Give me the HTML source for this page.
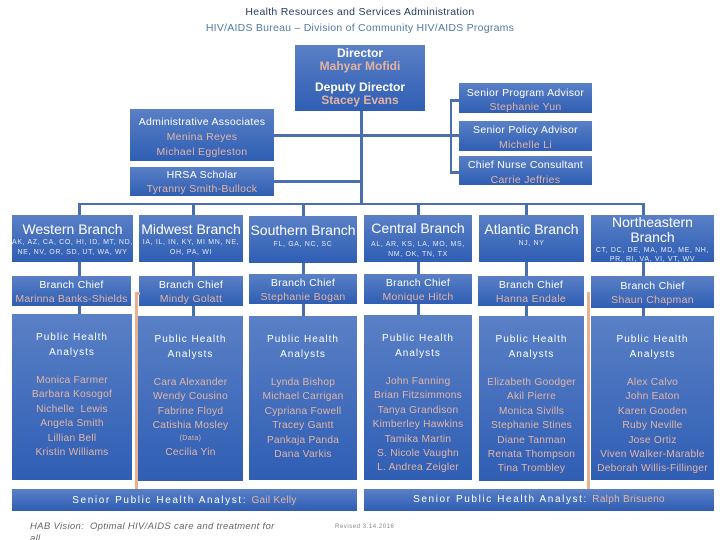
<!DOCTYPE html>
<html><head><meta charset="utf-8"><style>
html,body{margin:0;padding:0;background:#fff}
#p{position:relative;width:720px;height:540px;overflow:hidden;font-family:"Liberation Sans",sans-serif;color:#fff}
.b{position:absolute;background:linear-gradient(#5a80c6,#2f5eb4);text-align:center}
.l{position:absolute;background:#4a6fae}
.o{position:absolute;background:#e9b08c}
.t{position:absolute;left:0;right:0;text-align:center;white-space:nowrap}
.h{font-size:10.5px;letter-spacing:.3px;font-weight:400}
.n{color:#e2b4a4;font-size:10.5px;letter-spacing:.3px}
.c{font-size:14px}
.s{font-size:7px;letter-spacing:.65px;color:#dfe7f5}
.a{font-size:10px;letter-spacing:1px;line-height:15px}
.m{color:#e2b4a4;font-size:10.2px;letter-spacing:.25px;line-height:14.4px}
.d{font-weight:700;font-size:12px;line-height:13px}
</style></head><body><div id="p">

<div class="t" style="top:6px;font-size:10.5px;color:#1f3a5f;letter-spacing:.3px">Health Resources and Services Administration</div>
<div class="t" style="top:22px;font-size:10.5px;color:#4f7ba3;letter-spacing:.25px">HIV/AIDS Bureau – Division of Community HIV/AIDS Programs</div>

<!-- connectors -->
<div class="l" style="left:360px;top:111px;width:2.5px;height:94px"></div>
<div class="l" style="left:274px;top:134px;width:186px;height:3px"></div>
<div class="l" style="left:274px;top:180px;width:87px;height:3px"></div>
<div class="l" style="left:449.5px;top:99px;width:2.5px;height:74px"></div>
<div class="l" style="left:450px;top:99px;width:10px;height:2.5px"></div>
<div class="l" style="left:450px;top:171px;width:10px;height:2.5px"></div>
<div class="l" style="left:78px;top:202.5px;width:566px;height:2.5px"></div>
<div class="l" style="left:78px;top:203px;width:2.5px;height:112px"></div>
<div class="l" style="left:192px;top:203px;width:2.5px;height:114px"></div>
<div class="l" style="left:302px;top:203px;width:2.5px;height:114px"></div>
<div class="l" style="left:417px;top:203px;width:2.5px;height:114px"></div>
<div class="l" style="left:525px;top:203px;width:2.5px;height:114px"></div>
<div class="l" style="left:642px;top:203px;width:2.5px;height:114px"></div>

<!-- top boxes -->
<div class="b" style="left:295px;top:45px;width:130px;height:66px">
 <div class="t d" style="top:2px">Director</div>
 <div class="t d" style="top:15px;color:#e3b3a0">Mahyar Mofidi</div>
 <div class="t d" style="top:36px">Deputy Director</div>
 <div class="t d" style="top:49px;color:#e3b3a0">Stacey Evans</div>
</div>
<div class="b" style="left:130px;top:109px;width:144px;height:52px">
 <div class="t h" style="top:7px">Administrative Associates</div>
 <div class="t n" style="top:22px">Menina Reyes</div>
 <div class="t n" style="top:37px">Michael Eggleston</div>
</div>
<div class="b" style="left:130px;top:167px;width:144px;height:29px">
 <div class="t h" style="top:2px">HRSA Scholar</div>
 <div class="t n" style="top:16px">Tyranny Smith-Bullock</div>
</div>
<div class="b" style="left:459px;top:83px;width:133px;height:30px">
 <div class="t h" style="top:4px">Senior Program Advisor</div>
 <div class="t n" style="top:18px">Stephanie Yun</div>
</div>
<div class="b" style="left:459px;top:121px;width:133px;height:30px">
 <div class="t h" style="top:3px">Senior Policy Advisor</div>
 <div class="t n" style="top:18px">Michelle Li</div>
</div>
<div class="b" style="left:459px;top:156px;width:133px;height:29px">
 <div class="t h" style="top:3px">Chief Nurse Consultant</div>
 <div class="t n" style="top:18px">Carrie Jeffries</div>
</div>

<!-- branches -->
<div class="b" style="left:12px;top:215px;width:121px;height:47px">
 <div class="t c" style="top:6px">Western Branch</div>
 <div class="t s" style="top:24px">AK, AZ, CA, CO, HI, ID, MT, ND,</div>
 <div class="t s" style="top:34px">NE, NV, OR, SD, UT, WA, WY</div>
</div>
<div class="b" style="left:139px;top:215px;width:104px;height:47px">
 <div class="t c" style="top:6px">Midwest Branch</div>
 <div class="t s" style="top:24px">IA, IL, IN, KY, MI MN, NE,</div>
 <div class="t s" style="top:34px">OH, PA, WI</div>
</div>
<div class="b" style="left:249px;top:216px;width:108px;height:47px">
 <div class="t c" style="top:6px">Southern Branch</div>
 <div class="t s" style="top:25px">FL, GA, NC, SC</div>
</div>
<div class="b" style="left:364px;top:215px;width:108px;height:47px">
 <div class="t c" style="top:5px">Central Branch</div>
 <div class="t s" style="top:26px">AL, AR, KS, LA, MO, MS,</div>
 <div class="t s" style="top:36px">NM, OK, TN, TX</div>
</div>
<div class="b" style="left:479px;top:215px;width:105px;height:47px">
 <div class="t c" style="top:6px">Atlantic Branch</div>
 <div class="t s" style="top:25px">NJ, NY</div>
</div>
<div class="b" style="left:591px;top:215px;width:123px;height:47px">
 <div class="t c" style="top:-1px">Northeastern</div>
 <div class="t c" style="top:14px">Branch</div>
 <div class="t s" style="top:32px">CT, DC, DE, MA, MD, ME, NH,</div>
 <div class="t s" style="top:41px">PR, RI, VA, VI, VT, WV</div>
</div>

<!-- chiefs -->
<div class="b" style="left:12px;top:276px;width:119px;height:30px">
 <div class="t h" style="top:3px">Branch Chief</div>
 <div class="t n" style="top:17px;letter-spacing:.2px">Marinna Banks-Shields</div>
</div>
<div class="b" style="left:139px;top:276px;width:104px;height:30px">
 <div class="t h" style="top:3px">Branch Chief</div>
 <div class="t n" style="top:17px">Mindy Golatt</div>
</div>
<div class="b" style="left:249px;top:274px;width:108px;height:30px">
 <div class="t h" style="top:3px">Branch Chief</div>
 <div class="t n" style="top:17px">Stephanie Bogan</div>
</div>
<div class="b" style="left:364px;top:274px;width:108px;height:30px">
 <div class="t h" style="top:3px">Branch Chief</div>
 <div class="t n" style="top:17px">Monique Hitch</div>
</div>
<div class="b" style="left:478px;top:276px;width:106px;height:30px">
 <div class="t h" style="top:3px">Branch Chief</div>
 <div class="t n" style="top:17px">Hanna Endale</div>
</div>
<div class="b" style="left:591px;top:276px;width:123px;height:32px">
 <div class="t h" style="top:4px">Branch Chief</div>
 <div class="t n" style="top:18px">Shaun Chapman</div>
</div>

<!-- analysts -->
<div class="b" style="left:12px;top:314px;width:120px;height:166px">
 <div class="t a" style="top:16px">Public Health<br>Analysts</div>
 <div class="t m" style="top:60px">Monica Farmer<br>Barbara Kosogof<br>Nichelle &nbsp;Lewis<br>Angela Smith<br>Lillian Bell<br>Kristin Williams</div>
</div>
<div class="b" style="left:138px;top:316px;width:105px;height:165px">
 <div class="t a" style="top:16px">Public Health<br>Analysts</div>
 <div class="t m" style="top:60px">Cara Alexander<br>Wendy Cousino<br>Fabrine Floyd<br>Catishia Mosley</div>
 <div class="t" style="top:119px;font-size:7px;color:#e2b4a4;letter-spacing:.4px">(Data)</div>
 <div class="t m" style="top:130px">Cecilia Yin</div>
</div>
<div class="b" style="left:249px;top:316px;width:108px;height:164px">
 <div class="t a" style="top:16px">Public Health<br>Analysts</div>
 <div class="t m" style="top:60px">Lynda Bishop<br>Michael Carrigan<br>Cypriana Fowell<br>Tracey Gantt<br>Pankaja Panda<br>Dana Varkis</div>
</div>
<div class="b" style="left:364px;top:315px;width:108px;height:165px">
 <div class="t a" style="top:16px">Public Health<br>Analysts</div>
 <div class="t m" style="top:60px">John Fanning<br>Brian Fitzsimmons<br>Tanya Grandison<br>Kimberley Hawkins<br>Tamika Martin<br>S. Nicole Vaughn<br>L. Andrea Zeigler</div>
</div>
<div class="b" style="left:479px;top:316px;width:105px;height:165px">
 <div class="t a" style="top:16px">Public Health<br>Analysts</div>
 <div class="t m" style="top:60px">Elizabeth Goodger<br>Akil Pierre<br>Monica Sivills<br>Stephanie Stines<br>Diane Tanman<br>Renata Thompson<br>Tina Trombley</div>
</div>
<div class="b" style="left:591px;top:316px;width:123px;height:164px">
 <div class="t a" style="top:16px">Public Health<br>Analysts</div>
 <div class="t m" style="top:60px">Alex Calvo<br>John Eaton<br>Karen Gooden<br>Ruby Neville<br>Jose Ortiz<br>Viven Walker-Marable<br>Deborah Willis-Fillinger</div>
</div>

<!-- orange lines -->
<div class="o" style="left:134.5px;top:292px;width:3px;height:197px"></div>
<div class="o" style="left:134.5px;top:292px;width:5px;height:2.5px"></div>
<div class="o" style="left:587px;top:292px;width:3px;height:197px"></div>

<!-- senior bars -->
<div class="b" style="left:12px;top:489px;width:345px;height:22px">
 <div class="t" style="top:6px;font-size:10px;letter-spacing:1.6px">Senior Public Health Analyst: <span style="color:#e2b4a4;letter-spacing:.3px">Gail Kelly</span></div>
</div>
<div class="b" style="left:364px;top:489px;width:350px;height:22px">
 <div class="t" style="top:5px;font-size:10px;letter-spacing:1.6px">Senior Public Health Analyst: <span style="color:#e2b4a4;letter-spacing:.3px">Ralph Brisueno</span></div>
</div>

<div style="position:absolute;left:30px;top:520px;white-space:nowrap;font-size:9.5px;font-style:italic;color:#666;line-height:12px;letter-spacing:.32px;padding-top:1px">HAB Vision: &nbsp;Optimal HIV/AIDS care and treatment for<br>all</div>
<div style="position:absolute;left:335px;top:524px;font-size:6px;color:#888;white-space:nowrap;letter-spacing:.55px">Revised 3.14.2016</div>

</div></body></html>
